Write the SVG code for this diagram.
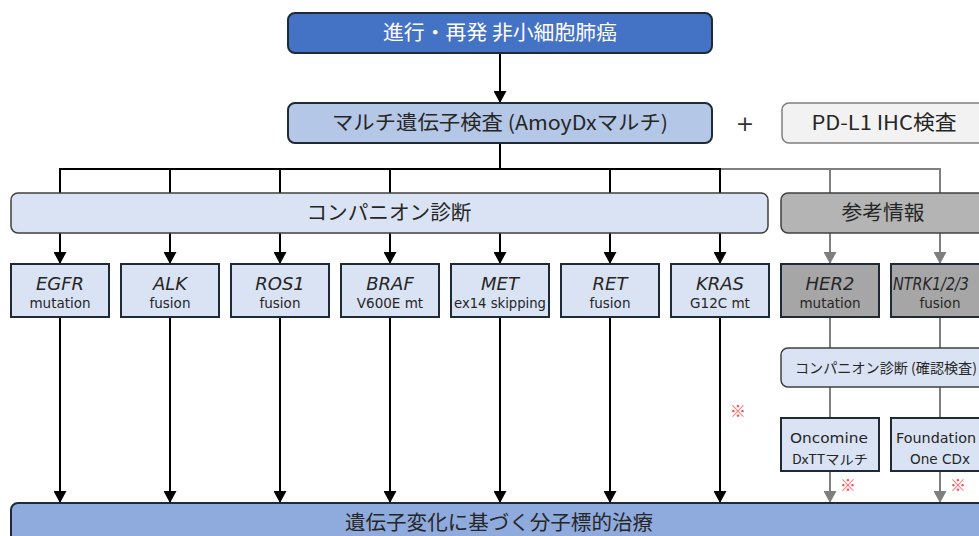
<svg xmlns="http://www.w3.org/2000/svg" width="979" height="536" viewBox="0 0 979 536">
<style>
.jp{font-family:"Noto Sans CJK JP","DejaVu Sans",sans-serif;fill:#262626;text-anchor:middle}
.lat{font-family:"DejaVu Sans","Noto Sans CJK JP",sans-serif;fill:#262626;text-anchor:middle}
.gene{font-style:italic;font-size:18px}
.sub{font-size:13.5px}
.bx{stroke:#1e2a36;stroke-width:2}
.lb{fill:#dae3f3}
.ck{stroke:#000;stroke-width:2;fill:none}
.cg{stroke:#7f7f7f;stroke-width:2;fill:none}
.mark{font-family:"Noto Sans CJK JP",sans-serif;fill:#ff4b4b;font-size:16px;text-anchor:middle}
</style>
<defs>
<marker id="ab" markerWidth="13" markerHeight="12" refX="6.5" refY="11" markerUnits="userSpaceOnUse" viewBox="0 0 13 12">
<path d="M0,0 L13,0 L6.5,12 Z" fill="#000"/>
</marker>
<marker id="ag" markerWidth="13" markerHeight="12" refX="6.5" refY="11" markerUnits="userSpaceOnUse" viewBox="0 0 13 12">
<path d="M0,0 L13,0 L6.5,12 Z" fill="#7f7f7f"/>
</marker>
</defs>
<rect width="979" height="536" fill="#fff"/>

<g id="connectors">
<line class="ck" x1="500" y1="53" x2="500" y2="102" marker-end="url(#ab)"/>
<line class="ck" x1="500" y1="143" x2="500" y2="169"/>
<path class="ck" d="M60,193 V169 H720 V193"/>
<line class="ck" x1="170" y1="169" x2="170" y2="193"/>
<line class="ck" x1="280" y1="169" x2="280" y2="193"/>
<line class="ck" x1="390" y1="169" x2="390" y2="193"/>
<line class="ck" x1="610" y1="169" x2="610" y2="193"/>
<path class="cg" d="M721,169 H940 V193"/>
<line class="cg" x1="830" y1="169" x2="830" y2="193"/>
<line class="ck" x1="60" y1="233" x2="60" y2="263" marker-end="url(#ab)"/>
<line class="ck" x1="170" y1="233" x2="170" y2="263" marker-end="url(#ab)"/>
<line class="ck" x1="280" y1="233" x2="280" y2="263" marker-end="url(#ab)"/>
<line class="ck" x1="390" y1="233" x2="390" y2="263" marker-end="url(#ab)"/>
<line class="ck" x1="500" y1="233" x2="500" y2="263" marker-end="url(#ab)"/>
<line class="ck" x1="610" y1="233" x2="610" y2="263" marker-end="url(#ab)"/>
<line class="ck" x1="720" y1="233" x2="720" y2="263" marker-end="url(#ab)"/>
<line class="cg" x1="830" y1="233" x2="830" y2="263" marker-end="url(#ag)"/>
<line class="cg" x1="940" y1="233" x2="940" y2="263" marker-end="url(#ag)"/>
<line class="ck" x1="60" y1="317" x2="60" y2="502" marker-end="url(#ab)"/>
<line class="ck" x1="170" y1="317" x2="170" y2="502" marker-end="url(#ab)"/>
<line class="ck" x1="280" y1="317" x2="280" y2="502" marker-end="url(#ab)"/>
<line class="ck" x1="390" y1="317" x2="390" y2="502" marker-end="url(#ab)"/>
<line class="ck" x1="500" y1="317" x2="500" y2="502" marker-end="url(#ab)"/>
<line class="ck" x1="610" y1="317" x2="610" y2="502" marker-end="url(#ab)"/>
<line class="ck" x1="720" y1="317" x2="720" y2="502" marker-end="url(#ab)"/>
<line class="cg" x1="830" y1="317" x2="830" y2="348"/>
<line class="cg" x1="940" y1="317" x2="940" y2="348"/>
<line class="cg" x1="830" y1="387" x2="830" y2="418"/>
<line class="cg" x1="940" y1="387" x2="940" y2="418"/>
<line class="cg" x1="830" y1="471" x2="830" y2="502" marker-end="url(#ag)"/>
<line class="cg" x1="940" y1="471" x2="940" y2="502" marker-end="url(#ag)"/>
</g>

<g id="n-top">
<rect class="bx" x="288" y="13" width="424" height="40" rx="7" fill="#4472c4"/>
<text class="jp" x="500" y="40" font-size="20" textLength="234" lengthAdjust="spacingAndGlyphs" style="fill:#fff">進行・再発 非小細胞肺癌</text>
</g>
<g id="n-multi">
<rect class="bx" x="288" y="103" width="424" height="40" rx="7" fill="#b4c7e7"/>
<text class="jp" x="500" y="130" font-size="20" textLength="336" lengthAdjust="spacingAndGlyphs">マルチ遺伝子検査 (AmoyDxマルチ)</text>
</g>
<g id="n-plus">
<text class="lat" x="745" y="131" font-size="22" style="fill:#333">+</text>
</g>
<g id="n-pdl1">
<rect x="782" y="103" width="215" height="40" rx="7" fill="#f2f2f2" stroke="#7f7f7f" stroke-width="1.5"/>
<text class="jp" x="884" y="130" font-size="20" textLength="145" lengthAdjust="spacingAndGlyphs">PD-L1 IHC検査</text>
</g>
<g id="n-companion">
<rect x="11" y="193" width="757" height="40" rx="7" fill="#dae3f3" stroke="#404040" stroke-width="1.5"/>
<text class="jp" x="389" y="220" font-size="20" textLength="165" lengthAdjust="spacingAndGlyphs">コンパニオン診断</text>
</g>
<g id="n-ref">
<rect x="781" y="193" width="215" height="40" rx="7" fill="#b4b4b4" stroke="#404040" stroke-width="1.5"/>
<text class="jp" x="883" y="220" font-size="20" textLength="83" lengthAdjust="spacingAndGlyphs">参考情報</text>
</g>

<g id="n-egfr"><rect class="bx lb" x="11" y="264" width="98" height="53"/><text class="lat gene" x="60" y="290">EGFR</text><text class="lat sub" x="60" y="308">mutation</text></g>
<g id="n-alk"><rect class="bx lb" x="121" y="264" width="98" height="53"/><text class="lat gene" x="170" y="290">ALK</text><text class="lat sub" x="170" y="308">fusion</text></g>
<g id="n-ros1"><rect class="bx lb" x="231" y="264" width="98" height="53"/><text class="lat gene" x="280" y="290">ROS1</text><text class="lat sub" x="280" y="308">fusion</text></g>
<g id="n-braf"><rect class="bx lb" x="341" y="264" width="98" height="53"/><text class="lat gene" x="390" y="290">BRAF</text><text class="lat sub" x="390" y="308">V600E mt</text></g>
<g id="n-met"><rect class="bx lb" x="451" y="264" width="98" height="53"/><text class="lat gene" x="500" y="290">MET</text><text class="lat sub" x="500" y="308" textLength="92" lengthAdjust="spacingAndGlyphs">ex14 skipping</text></g>
<g id="n-ret"><rect class="bx lb" x="561" y="264" width="98" height="53"/><text class="lat gene" x="610" y="290">RET</text><text class="lat sub" x="610" y="308">fusion</text></g>
<g id="n-kras"><rect class="bx lb" x="671" y="264" width="98" height="53"/><text class="lat gene" x="720" y="290">KRAS</text><text class="lat sub" x="720" y="308">G12C mt</text></g>
<g id="n-her2"><rect class="bx" x="781" y="264" width="98" height="53" fill="#a6a6a6"/><text class="lat gene" x="830" y="290">HER2</text><text class="lat sub" x="830" y="308">mutation</text></g>
<g id="n-ntrk"><rect class="bx" x="891" y="264" width="98" height="53" fill="#a6a6a6"/><text class="lat gene" x="931" y="290" font-size="17" textLength="76" lengthAdjust="spacingAndGlyphs">NTRK1/2/3</text><text class="lat sub" x="940" y="308">fusion</text></g>

<g id="n-confirm">
<rect x="781" y="348" width="215" height="39" rx="7" fill="#dae3f3" stroke="#404040" stroke-width="1.5"/>
<text class="jp" x="886" y="372.5" font-size="14" textLength="182" lengthAdjust="spacingAndGlyphs">コンパニオン診断 (確認検査)</text>
</g>
<g id="n-oncomine"><rect class="bx lb" x="781" y="418" width="98" height="53"/><text class="lat" x="829" y="443" font-size="14.5" textLength="78" lengthAdjust="spacingAndGlyphs">Oncomine</text><text class="jp" x="830" y="464" font-size="13" textLength="76" lengthAdjust="spacingAndGlyphs">DxTTマルチ</text></g>
<g id="n-foundation"><rect class="bx lb" x="891" y="418" width="98" height="53"/><text class="lat" x="936" y="443" font-size="14.5" textLength="80" lengthAdjust="spacingAndGlyphs">Foundation</text><text class="lat" x="940" y="464" font-size="13.5" textLength="60" lengthAdjust="spacingAndGlyphs">One CDx</text></g>

<g id="marks">
<text class="mark" x="738" y="417">※</text>
<text class="mark" x="848" y="491">※</text>
<text class="mark" x="958" y="491">※</text>
</g>

<g id="n-treatment">
<rect class="bx" x="11" y="503" width="990" height="50" rx="7" fill="#8faadc"/>
<text class="jp" x="499" y="530" font-size="20" textLength="308" lengthAdjust="spacingAndGlyphs">遺伝子変化に基づく分子標的治療</text>
</g>
</svg>
